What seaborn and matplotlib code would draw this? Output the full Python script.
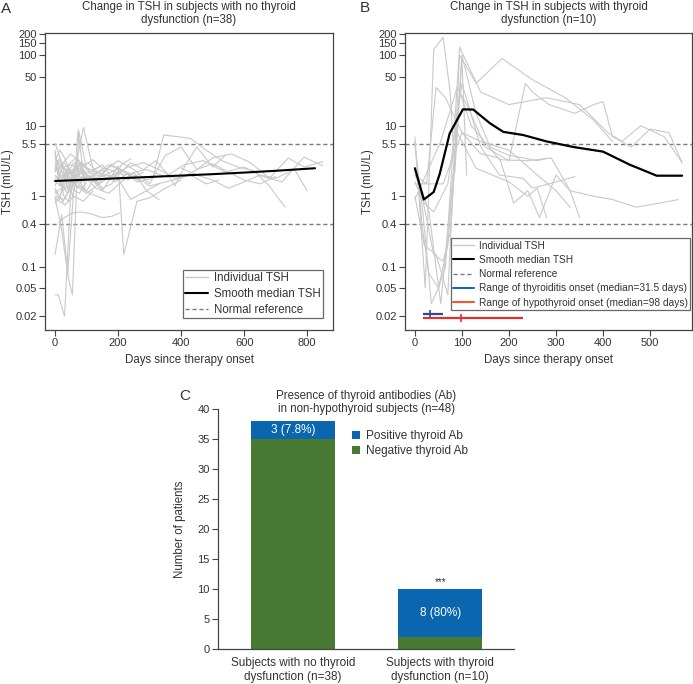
import matplotlib
matplotlib.use("Agg")
import matplotlib.pyplot as plt
import matplotlib.ticker as mticker
from matplotlib.lines import Line2D
from matplotlib.patches import Patch
import pandas as pd
import seaborn as sns

# ---------------- data ----------------
# Panel A: individual TSH trajectories (days since therapy onset, TSH mIU/L)
A_DAYS = [
    [0, 14, 28, 56, 84, 112, 140],
    [0, 21, 42, 63, 84, 105],
    [0, 14, 35, 56, 77, 98],
    [0, 21, 42, 70, 98, 130, 170],
    [0, 14, 28, 49, 70, 91],
    [0, 21, 49, 77, 100],
    [0, 14, 42, 63, 84, 105, 140, 175, 210, 245],
    [0, 10, 30, 50, 90, 130],
    [0, 21, 42, 55, 75, 100],
    [12, 30, 55, 80, 110, 150, 180, 205],
    [0, 28, 56, 90, 130, 170, 210, 250, 290, 330],
    [0, 30, 70, 110, 150, 200, 218, 260, 300, 350, 400],
    [0, 40, 80, 130, 180, 230, 280, 330, 380, 430, 480, 520],
    [0, 35, 70, 120, 170, 220, 260, 310, 345, 390, 430, 480, 530, 580, 630, 680, 730],
    [150, 200, 250, 300, 350, 400, 450, 500, 560, 620, 680, 740, 790, 850],
    [0, 50, 100, 160, 220, 290, 350, 410, 470, 540, 600, 660, 720, 790, 850],
    [0, 20, 40, 73, 95],
    [0, 15, 30, 45, 60, 90, 120, 150],
    [0, 20, 40, 60, 80, 100, 125, 150, 180, 210, 240],
    [0, 10, 25, 50, 75, 100],
    [0, 25, 60, 100, 140, 190, 240, 290, 330],
    [0, 14, 28, 42, 60, 80],
    [0, 20, 45, 70, 100, 130, 160],
    [200, 240, 280, 320, 360, 380, 410, 450, 500, 540],
    [0, 50, 100, 150, 200, 250, 300, 350, 400, 450, 500, 550, 600, 650, 700],
    [0, 30, 60, 90, 120],
    [0, 20, 50, 80, 110, 150, 190, 230, 270],
    [400, 450, 500, 550, 600, 650, 700, 760, 800],
    [0, 15, 40, 70, 110, 160],
    [0, 30, 60, 90, 130, 180, 230, 280],
]
A_TSH = [
    [3.8, 2.6, 1.9, 2.4, 3.1, 2.2, 2.6],
    [5.6, 3.0, 1.2, 2.8, 1.6, 2.0],
    [4.2, 1.4, 2.2, 1.0, 2.8, 1.7],
    [2.9, 1.8, 2.5, 1.3, 2.1, 1.5, 1.9],
    [1.2, 0.9, 1.6, 2.4, 1.9, 1.3],
    [0.95, 0.8, 1.3, 1.1, 1.6],
    [2.2, 3.4, 2.0, 1.5, 2.6, 3.0, 2.1, 1.7, 2.3, 1.9],
    [0.04, 0.04, 0.02, 1.2, 9.5, 1.6],
    [0.15, 0.55, 0.07, 0.04, 8.5, 2.4],
    [0.42, 0.5, 0.58, 0.6, 0.57, 0.5, 0.52, 0.58],
    [1.0, 0.9, 1.4, 2.0, 1.3, 1.1, 1.6, 2.2, 1.2, 0.9],
    [1.6, 1.3, 2.4, 1.9, 1.2, 2.7, 0.15, 0.85, 0.95, 1.3, 1.7],
    [2.5, 2.0, 2.8, 2.2, 1.9, 2.6, 3.0, 2.4, 1.8, 2.0, 1.5, 1.7],
    [3.0, 2.4, 1.6, 2.0, 2.8, 2.2, 1.6, 1.8, 7.4, 7.0, 6.6, 4.5, 3.2, 2.6, 2.3, 1.4, 0.7],
    [2.2, 3.2, 2.4, 1.5, 3.8, 5.0, 2.4, 3.5, 4.0, 3.0, 1.8, 3.5, 2.6, 3.1],
    [1.8, 2.2, 1.7, 2.5, 2.0, 2.4, 1.9, 2.8, 3.2, 2.2, 2.6, 1.9, 1.6, 3.6, 2.7],
    [0.95, 0.35, 0.08, 8.7, 1.3],
    [3.2, 4.5, 3.5, 2.4, 3.0, 2.7, 3.3, 2.5],
    [2.0, 1.5, 1.1, 2.1, 1.4, 1.2, 1.8, 1.3, 1.5, 2.8, 3.4],
    [4.5, 2.0, 1.2, 1.5, 2.3, 1.8],
    [1.4, 2.6, 1.5, 1.1, 1.5, 2.1, 0.9, 1.2, 1.5],
    [2.7, 1.9, 1.0, 0.85, 1.7, 2.2],
    [1.1, 1.3, 2.9, 3.6, 2.0, 1.8, 2.3],
    [2.0, 3.0, 2.4, 3.2, 2.0, 1.4, 2.6, 5.0, 2.6, 3.8],
    [2.4, 2.8, 2.2, 1.9, 2.5, 2.0, 1.4, 1.6, 1.8, 2.4, 2.9, 2.2, 1.7, 1.5, 1.9],
    [1.3, 0.75, 1.0, 0.85, 1.2],
    [3.5, 2.8, 4.0, 3.0, 2.2, 2.8, 1.6, 2.1, 1.6],
    [2.5, 2.0, 1.7, 1.3, 1.6, 2.0, 1.8, 2.4, 1.2],
    [0.8, 1.0, 1.9, 1.4, 1.1, 0.9],
    [2.3, 3.0, 1.8, 2.2, 1.6, 2.9, 1.7, 2.2],
]
A_MED_DAYS = [0, 100, 200, 300, 400, 500, 600, 700, 825]
A_MED_TSH = [1.65, 1.72, 1.80, 1.88, 1.97, 2.06, 2.17, 2.30, 2.50]

# Panel B: individual TSH trajectories
B_DAYS = [
    [0, 22, 40, 60, 75, 85, 100, 110],
    [0, 18, 35, 50, 65, 95, 140, 200, 280, 350, 410, 440, 480, 530, 568],
    [0, 20, 45, 70, 95, 130, 185, 250, 320, 380, 420],
    [0, 25, 45, 65, 100, 140, 200, 260, 300, 330],
    [0, 30, 60, 100, 140, 180, 210, 240, 265, 300, 330, 350],
    [0, 15, 30, 50, 70, 95, 120, 180, 240, 290, 330, 380, 420, 470, 520, 560],
    [0, 20, 55, 90, 110, 150, 200, 235, 250, 285, 340, 380, 400, 420, 460, 500, 540, 568],
    [0, 10, 40, 60, 75, 100, 130, 160, 200, 230, 260, 285],
    [0, 20, 40, 70, 100, 140, 180, 230, 250, 300, 340],
    [0, 30, 55, 90, 130, 200, 240, 260, 280],
]
B_TSH = [
    [7.0, 0.05, 120, 180, 30, 2.2, 90, 2.0],
    [5.5, 0.5, 0.03, 0.05, 0.1, 130, 30, 20, 25, 20, 8, 6, 10, 7, 3.0],
    [1.0, 0.2, 0.15, 0.04, 100, 40, 90, 45, 25, 12, 6],
    [2.0, 1.5, 35, 25, 8, 6, 4.5, 2.0, 1.2, 0.7],
    [1.5, 1.5, 1.5, 8, 4, 3.5, 0.8, 1.2, 0.5, 2, 1.2, 0.5],
    [6, 0.4, 0.08, 0.05, 0.2, 30, 10, 3.3, 3.2, 3.5, 1.2, 1.0, 0.9, 0.7, 0.8, 0.9],
    [0.9, 1.8, 6, 35, 20, 5, 3.2, 40, 30, 20, 15, 20, 22, 7, 5, 9, 8, 3],
    [2, 1.5, 0.15, 0.12, 0.3, 100, 15, 5, 3.8, 3.5, 3.2, 3.5],
    [1.6, 0.8, 0.6, 1.5, 40, 5, 2.0, 1.8, 1.3, 1.6, 1.9],
    [2.5, 0.6, 0.03, 8, 2.5, 1.6, 1.0, 1.3, 0.5],
]
B_MED_DAYS = [0, 19, 40, 53, 74, 102, 124, 160, 188, 230, 280, 337, 400, 457, 514, 568]
B_MED_TSH = [2.5, 0.9, 1.15, 2.1, 7.8, 17.1, 17.0, 10.8, 8.2, 7.4, 6.0, 5.0, 4.3, 2.8, 1.96, 1.96]

THYROIDITIS_RANGE = [17, 60]
THYROIDITIS_MEDIAN = 31.5
HYPO_RANGE = [17, 230]
HYPO_MEDIAN = 98

NORMAL_REF = [0.4, 5.5]
Y_TICKS = [0.02, 0.05, 0.1, 0.4, 1, 5.5, 10, 50, 100, 150, 200]
Y_TICK_LABELS = ["0.02", "0.05", "0.1", "0.4", "1", "5.5", "10", "50", "100", "150", "200"]

# Panel C
C_CATEGORIES = ["Subjects with no thyroid\ndysfunction (n=38)",
                "Subjects with thyroid\ndysfunction (n=10)"]
C_NEGATIVE = [35, 2]
C_POSITIVE = [3, 8]
C_LABELS = ["3 (7.8%)", "8 (80%)"]

# ---------------- style ----------------
sns.set_theme(style="white")
plt.rcParams['font.family'] = ['Liberation Sans', 'DejaVu Sans']
TXT = '#333333'
SPINE = '#444444'
GRAY = '#c9c9c9'
DASH = '#7a7a7a'
BLUE_BAR = '#0a66ae'
GREEN_BAR = '#487a34'
FS = 8.3

W, H = 693, 684
fig = plt.figure(figsize=(W / 100, H / 100), dpi=100)


def px_axes(l, r, t, b):
    return fig.add_axes([l / W, 1 - b / H, (r - l) / W, (b - t) / H])


def long_df(days, vals):
    rows = []
    for i, (d, v) in enumerate(zip(days, vals)):
        for dd, vv in zip(d, v):
            rows.append((i, dd, vv))
    return pd.DataFrame(rows, columns=["subject", "day", "tsh"])


def style_tsh_axis(ax, xlim, xticks):
    ax.set_yscale('log')
    ax.set_ylim(0.0127, 207)
    ax.set_xlim(*xlim)
    ax.set_yticks(Y_TICKS)
    ax.set_yticklabels(Y_TICK_LABELS)
    ax.yaxis.set_minor_locator(mticker.NullLocator())
    ax.set_xticks(xticks)
    for s in ax.spines.values():
        s.set_visible(True)
        s.set_color(SPINE)
        s.set_linewidth(0.9)
    ax.tick_params(axis='both', which='major', direction='out', length=4, width=0.8,
                   color=SPINE, labelsize=8, labelcolor=TXT, left=True, bottom=True, pad=2)
    for y in NORMAL_REF:
        ax.axhline(y, color=DASH, lw=1.0, ls=(0, (3, 2)), zorder=1)
    ax.set_xlabel("Days since therapy onset", fontsize=FS, color=TXT, labelpad=4)
    ax.set_ylabel("TSH (mIU/L)", fontsize=FS, color=TXT, labelpad=1)


# ---------------- Panel A ----------------
axA = px_axes(45, 333, 33, 330)
dfA = long_df(A_DAYS, A_TSH)
sns.lineplot(data=dfA, x="day", y="tsh", units="subject", estimator=None,
             color=GRAY, lw=0.8, ax=axA, legend=False, zorder=2)
sns.lineplot(x=A_MED_DAYS, y=A_MED_TSH, color='black', lw=1.5, ax=axA, zorder=4)
style_tsh_axis(axA, (-32, 882), [0, 200, 400, 600, 800])
axA.set_title("Change in TSH in subjects with no thyroid\ndysfunction (n=38)",
              fontsize=FS, color=TXT, pad=7, linespacing=1.15)
hA = [Line2D([], [], color=GRAY, lw=1.0),
      Line2D([], [], color='black', lw=1.5),
      Line2D([], [], color=DASH, lw=1.0, ls=(0, (3, 2)))]
legA = axA.legend(hA, ["Individual TSH", "Smooth median TSH", "Normal reference"],
                  loc='lower right', bbox_to_anchor=(0.965, 0.040), borderaxespad=0,
                  fontsize=FS, frameon=True, fancybox=False, borderpad=0.2,
                  labelspacing=0.32, handlelength=2.0, handletextpad=0.5)
legA.get_frame().set_edgecolor(SPINE)
legA.get_frame().set_linewidth(0.9)
for t in legA.get_texts():
    t.set_color(TXT)

# ---------------- Panel B ----------------
axB = px_axes(405, 692, 33, 330)
dfB = long_df(B_DAYS, B_TSH)
sns.lineplot(data=dfB, x="day", y="tsh", units="subject", estimator=None,
             color=GRAY, lw=0.8, ax=axB, legend=False, zorder=2)
sns.lineplot(x=B_MED_DAYS, y=B_MED_TSH, color='black', lw=1.6, ax=axB, zorder=4)
style_tsh_axis(axB, (-21, 589), [0, 100, 200, 300, 400, 500])
axB.set_title("Change in TSH in subjects with thyroid\ndysfunction (n=10)",
              fontsize=FS, color=TXT, pad=7, linespacing=1.15)
axB.plot(THYROIDITIS_RANGE, [0.0215, 0.0215], color='#2b47a0', lw=1.6, zorder=5,
         solid_capstyle='butt')
axB.plot([THYROIDITIS_MEDIAN], [0.0215], marker='|', ms=6, mew=1.2, color='#2b47a0', zorder=5)
axB.plot(HYPO_RANGE, [0.0185, 0.0185], color='#e03030', lw=1.6, zorder=5,
         solid_capstyle='butt')
axB.plot([HYPO_MEDIAN], [0.0185], marker='|', ms=6, mew=1.2, color='#e03030', zorder=5)
hB = hA + [Line2D([], [], color='#1f67a8', lw=1.5),
           Line2D([], [], color='#f05a28', lw=1.5)]
legB = axB.legend(hB, ["Individual TSH", "Smooth median TSH", "Normal reference",
                       "Range of thyroiditis onset (median=31.5 days)",
                       "Range of hypothyroid onset (median=98 days)"],
                  loc='lower right', bbox_to_anchor=(0.993, 0.067), borderaxespad=0,
                  fontsize=7.3, frameon=True, fancybox=False, borderpad=0.25,
                  labelspacing=0.42, handlelength=2.0, handletextpad=0.5)
legB.get_frame().set_edgecolor(SPINE)
legB.get_frame().set_linewidth(0.9)
for t in legB.get_texts():
    t.set_color(TXT)

# ---------------- Panel C ----------------
axC = px_axes(218, 514, 409, 649)
totals = [n + p for n, p in zip(C_NEGATIVE, C_POSITIVE)]
sns.barplot(x=C_CATEGORIES, y=totals, color=BLUE_BAR, saturation=1, width=0.57,
            ax=axC, linewidth=0)
sns.barplot(x=C_CATEGORIES, y=C_NEGATIVE, color=GREEN_BAR, saturation=1, width=0.57,
            ax=axC, linewidth=0)
axC.set_xlim(-0.51, 1.50)
axC.set_ylim(0, 40)
axC.set_yticks(range(0, 41, 5))
for s in ['top', 'right']:
    axC.spines[s].set_visible(False)
for s in ['left', 'bottom']:
    axC.spines[s].set_color(SPINE)
    axC.spines[s].set_linewidth(0.9)
axC.tick_params(axis='y', direction='out', length=4, width=0.8, color=SPINE,
                labelsize=8, labelcolor=TXT, left=True, pad=2)
axC.tick_params(axis='x', length=0, labelsize=8.5, labelcolor=TXT, pad=6)
axC.set_ylabel("Number of patients", fontsize=FS, color=TXT, labelpad=8)
axC.set_xlabel("")
for i, (n, p, lab) in enumerate(zip(C_NEGATIVE, C_POSITIVE, C_LABELS)):
    axC.text(i, n + p / 2, lab, ha='center', va='center', color='white', fontsize=8.5)
axC.text(1, 11.2, "***", ha='center', va='center', color=TXT, fontsize=7)
hC = [Patch(facecolor=BLUE_BAR, edgecolor='none'), Patch(facecolor=GREEN_BAR, edgecolor='none')]
legC = axC.legend(hC, ["Positive thyroid Ab", "Negative thyroid Ab"], loc='upper left',
                  bbox_to_anchor=(0.453, 0.9125), borderaxespad=0, borderpad=0,
                  frameon=False, fontsize=8.5, handlelength=0.7, handleheight=0.7,
                  handletextpad=0.5, labelspacing=0.25)
for t in legC.get_texts():
    t.set_color(TXT)
fig.text(366 / W, 1 - 402.5 / H, "Presence of thyroid antibodies (Ab)\nin non-hypothyroid subjects (n=48)",
         ha='center', va='center', fontsize=FS, color=TXT, linespacing=1.15)

# panel letters
fig.text(6 / W, 1 - 9 / H, "A", fontsize=11, color=TXT, ha='center', va='center')
fig.text(365 / W, 1 - 8 / H, "B", fontsize=11, color=TXT, ha='center', va='center')
fig.text(185 / W, 1 - 396 / H, "C", fontsize=11, color=TXT, ha='center', va='center')

fig.savefig("out.png", dpi=100)
